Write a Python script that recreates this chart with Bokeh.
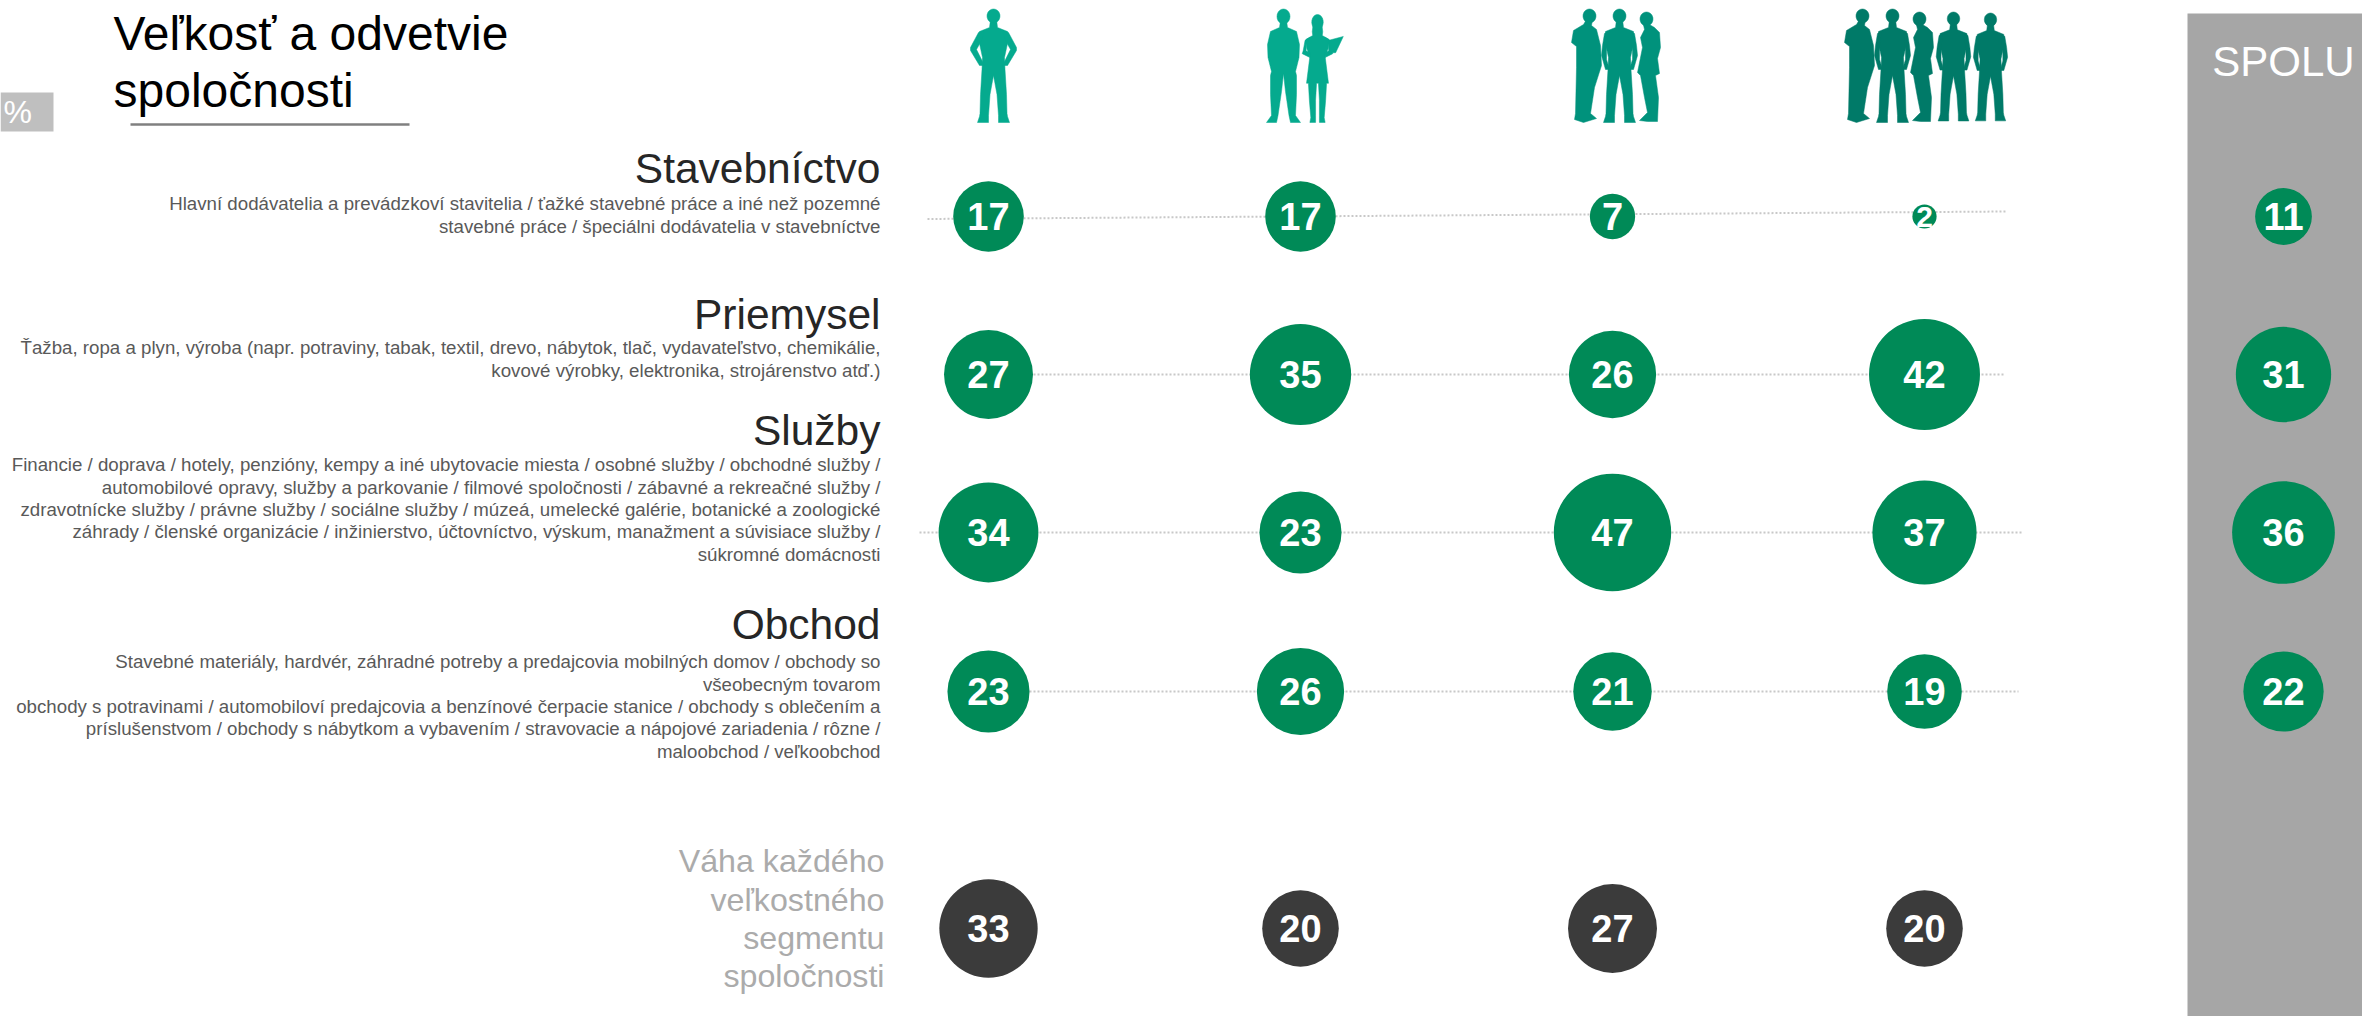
import math
from bokeh.embed import file_html
from bokeh.resources import INLINE
from bokeh.plotting import figure
from bokeh.models import Range1d
from bokeh.core.properties import value

# ---- data ----
construction = [17, 17, 7, 2]
industry = [27, 35, 26, 42]
services = [34, 23, 47, 37]
retail = [23, 26, 21, 19]
weights = [33, 20, 27, 20]
total_label = "SPOLU"
totals = [11, 31, 36, 22]

title_lines = ["Veľkosť a odvetvie", "spoločnosti"]
sector_names = ["Stavebníctvo", "Priemysel", "Služby", "Obchod"]
sector_desc = [
    ["Hlavní dodávatelia a prevádzkoví stavitelia / ťažké stavebné práce a iné než pozemné",
     "stavebné práce / špeciálni dodávatelia v stavebníctve"],
    ["Ťažba, ropa a plyn, výroba (napr. potraviny, tabak, textil, drevo, nábytok, tlač, vydavateľstvo, chemikálie,",
     "kovové výrobky, elektronika, strojárenstvo atď.)"],
    ["Financie / doprava / hotely, penzióny, kempy a iné ubytovacie miesta / osobné služby / obchodné služby /",
     "automobilové opravy, služby a parkovanie / filmové spoločnosti / zábavné a rekreačné služby /",
     "zdravotnícke služby / právne služby / sociálne služby / múzeá, umelecké galérie, botanické a zoologické",
     "záhrady / členské organizácie / inžinierstvo, účtovníctvo, výskum, manažment a súvisiace služby /",
     "súkromné domácnosti"],
    ["Stavebné materiály, hardvér, záhradné potreby a predajcovia mobilných domov / obchody so",
     "všeobecným tovarom",
     "obchody s potravinami / automobiloví predajcovia a benzínové čerpacie stanice / obchody s oblečením a",
     "príslušenstvom / obchody s nábytkom a vybavením / stravovacie a nápojové zariadenia / rôzne /",
     "maloobchod / veľkoobchod"],
]
weight_lines = ["Váha každého", "veľkostného", "segmentu", "spoločnosti"]
unit = "%"

# ---- layout ----
W, H = 2362, 1016
COL = [988, 1300, 1612, 1924]
TOTAL_X = 2283
ROW = [216, 374, 532, 691]
WEIGHT_Y = 928
K = 8.56
FONT = value("Liberation Sans")
GREEN, DARK = "#008A57", "#3B3B3B"
BASE_FIX = 0.35

p = figure(width=W, height=H, x_range=Range1d(0, W), y_range=Range1d(H, 0),
           output_backend="svg", toolbar_location=None, min_border=0,
           background_fill_color="white", border_fill_color="white",
           outline_line_color=None)
p.axis.visible = False
p.grid.visible = False


def txt(x, y, s, size, color, align="right", style="normal"):
    p.text([x], [y - BASE_FIX * size], text=[s], text_font=FONT, text_font_size=f"{size}px", text_color=color,
           text_align=align, text_baseline="alphabetic", text_font_style=style)


# total panel, % tag, title
p.quad(left=[2187], right=[W], top=[13], bottom=[H], fill_color="#A6A6A6", line_color=None)
p.quad(left=[0], right=[53], top=[92], bottom=[131], fill_color="#BFBFBF", line_color=None)
txt(3, 123, unit, 32, "white", "left")
txt(113, 50, title_lines[0], 48, "#000000", "left")
txt(113, 107, title_lines[1], 48, "#000000", "left")
p.line([130, 409], [124, 124], line_color="#808080", line_width=2.5)
txt(2283, 76, total_label, 42, "white", "center")

# sector text
name_base = [183, 329, 445, 639]
desc_base = [210, 354, 471, 668]
for name, lines, nb, db in zip(sector_names, sector_desc, name_base, desc_base):
    txt(880, nb, name, 42.5, "#262626")
    for i, line in enumerate(lines):
        txt(880, db + i * 22.3, line, 18.7, "#595959")
for i, line in enumerate(weight_lines):
    txt(884, 872 + i * 38.4, line, 32.2, "#ABABAB")

# dotted guide lines
guides = [((927, 218.5), (2006, 211)), ((945, 374), (2003, 374)),
          ((919, 532), (2023, 532)), ((949, 691), (2018, 691))]
for (a, b) in guides:
    p.line([a[0], b[0]], [a[1], b[1]], line_color="#C8C8C8", line_width=2, line_dash="2 2")


# silhouettes
def mirror(half):
    return [(x, y) for x, y in half] + [(-x, y) for x, y in reversed(half)]


def flip(poly):
    return [(-x, y) for x, y in poly]


def ellipse(cx, cy, rx, ry, n=24):
    return [(cx + rx * math.cos(2 * math.pi * i / n), cy + ry * math.sin(2 * math.pi * i / n)) for i in range(n)]


MAN_BODY = [(3, 10), (4, 18), (14, 22), (14, 34), (11, 48), (11.5, 60), (13, 85), (13.5, 104),
            (14, 107), (16, 113), (5, 113), (5, 106), (3.5, 85), (0, 66)]
AKIMBO_ARM = [(9, 21), (15, 23), (23, 38), (23, 41), (14, 56), (9, 56), (12, 50), (17, 40), (12, 31)]
SIDE_ARM = [(11, 22), (15, 24), (17, 36), (18, 46), (14, 60), (10, 60), (13, 50), (13, 42)]
MAN_SOLID = [(3, 11), (4, 18), (13, 22), (16, 35), (15.5, 48), (12, 62), (13, 66), (13, 85), (12, 106),
             (17, 113), (7, 113), (5.5, 106), (2, 82), (0, 64)]
SIDE_MAN = [(-3, 10), (-6, 15), (-16, 21), (-18, 33), (-13, 37), (-13, 58), (-14, 104), (-15, 110), (-6, 113), (7, 109),
            (1, 104), (5, 78), (12, 56), (11, 36), (7, 20), (2, 16), (3, 10)]
SIDE_WOMAN = [(-4, 8), (-2, 17), (-6, 25), (-4, 35), (-9, 60), (-6, 63), (-2, 85), (1, 100), (-7, 108), (1, 109),
              (11, 109), (12, 85), (9, 63), (13, 61), (11, 46), (14, 35), (13, 20), (8, 15)]
WOMAN = [(4, 5), (5.5, 18), (5, 22), (12, 26), (11, 36), (8, 44), (11.5, 72), (9.5, 72), (8.5, 90), (7, 108),
         (8, 113), (2, 113), (2, 106), (2, 90), (1, 72), (0, 72)]
WOMAN_ARMS = [(8, 24), (13, 27), (15, 38), (16, 41), (8, 45), (8, 40), (12, 38), (11, 30)]
CLIPBOARD = [(12, 27), (27, 23), (19, 40), (12, 40)]


def person(kind, cx, top, color, scale=1.0):
    if kind == "akimbo":
        polys = [mirror(MAN_BODY), AKIMBO_ARM, flip(AKIMBO_ARM), ellipse(0, 6.5, 6.5, 7)]
    elif kind == "solid":
        polys = [mirror(MAN_SOLID), ellipse(0, 7, 6.5, 7.5)]
    elif kind == "pockets":
        polys = [mirror(MAN_BODY), SIDE_ARM, flip(SIDE_ARM), ellipse(0, 6.5, 6.5, 7)]
    elif kind == "sideman":
        polys = [SIDE_MAN, ellipse(0, 6.5, 6.5, 7)]
    elif kind == "sidewoman":
        polys = [SIDE_WOMAN, ellipse(0, 6.5, 6.5, 7)]
    else:
        polys = [mirror(WOMAN), WOMAN_ARMS, flip(WOMAN_ARMS), CLIPBOARD, ellipse(0, 8, 6, 8)]
    xs = [[cx + x * scale for x, _ in q] for q in polys]
    ys = [[top + y * scale for _, y in q] for q in polys]
    p.patches(xs, ys, fill_color=color, line_color=color, line_width=0.5)


person("akimbo", 993, 9, "#05AA8E")
person("solid", 1283, 9, "#05AA8E")
person("womanclip", 1317, 14, "#05AA8E", 0.955)
person("sideman", 1589, 9, "#00927C")
person("pockets", 1619, 9, "#00927C")
person("sidewoman", 1646, 12, "#00927C")
person("sideman", 1862, 9, "#007A68")
person("pockets", 1892, 9, "#007A68")
person("sidewoman", 1919, 12, "#007A68")
person("pockets", 1953, 12, "#007A68", 0.96)
person("pockets", 1990, 13, "#007A68", 0.95)


# bubbles
def bubbles(xs, ys, vals, color):
    p.scatter(xs, ys, size=[2 * K * math.sqrt(v) for v in vals], fill_color=color, line_color=None)
    for x, y, v in zip(xs, ys, vals):
        fs = 38 if v > 2 else 30
        txt(x, y + fs * 0.36, str(v), fs, "white", "center", "bold")


for row_y, vals in zip(ROW, [construction, industry, services, retail]):
    bubbles(COL, [row_y] * 4, vals, GREEN)
bubbles(COL, [WEIGHT_Y] * 4, weights, DARK)
bubbles([TOTAL_X] * 4, ROW, totals, GREEN)

open("out.html", "w").write(file_html(p, INLINE))
